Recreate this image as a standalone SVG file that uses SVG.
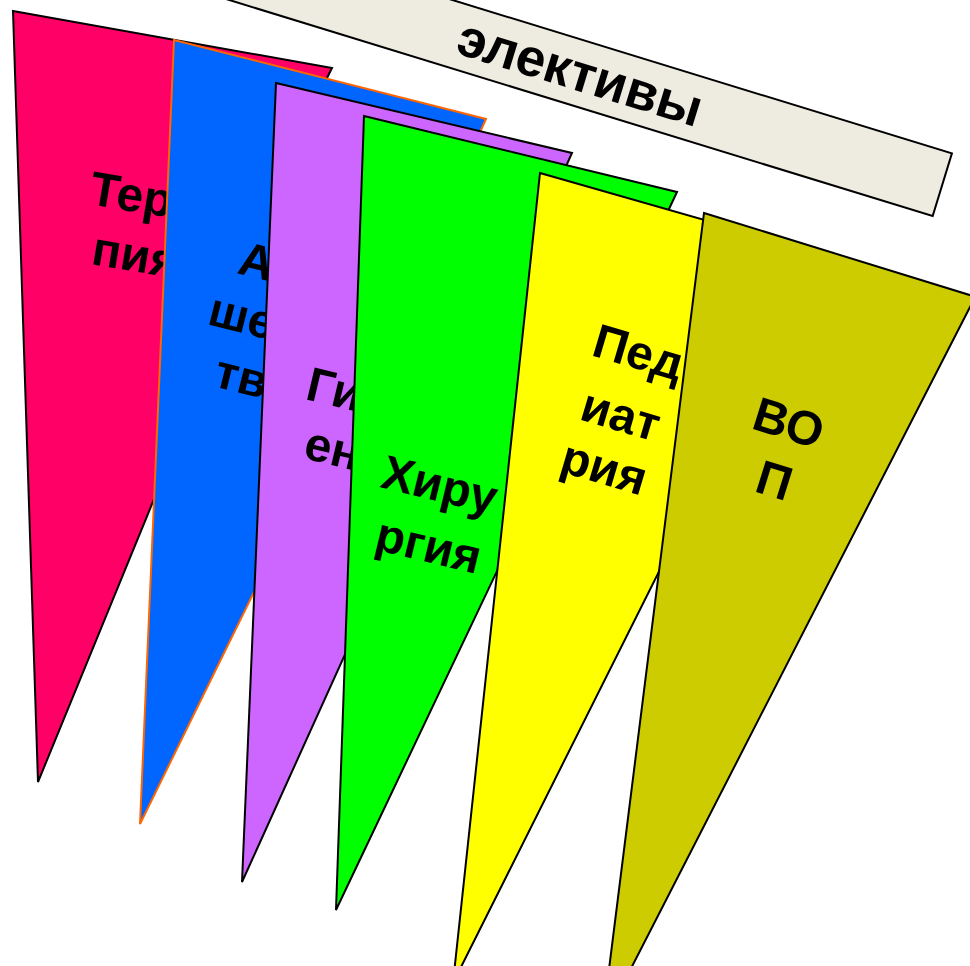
<svg xmlns="http://www.w3.org/2000/svg" width="970" height="966" viewBox="0 0 970 966">
<style>
  .pn { stroke: #000; stroke-width: 2; stroke-linejoin: miter; }
  .lbl { font-family: "Liberation Sans", Arial, sans-serif; font-weight: bold; font-size: 48px; fill: #000; }
  .ttl { font-family: "Liberation Sans", Arial, sans-serif; font-weight: bold; font-size: 53px; fill: #000; }
</style>
<rect width="970" height="966" fill="#fff"/>
<g id="banner">
  <rect x="100" y="-132.8" width="855" height="65.5" fill="#EEECE1" stroke="#000" stroke-width="2" transform="rotate(17.07)"/>
  <text class="ttl" x="575" y="90" text-anchor="middle" transform="rotate(17.07 575 90)">элективы</text>
</g>
<g id="terapia">
  <polygon class="pn" fill="#FF0066" points="13,11 332,68 326,80 38,782"/>
  <text class="lbl" x="88" y="204" transform="rotate(9.5 88 204)">Тер</text>
  <text class="lbl" x="90" y="264" transform="rotate(9.5 90 264)">пия</text>
</g>
<g id="akusherstvo">
  <polygon fill="#0066FF" stroke="#FF6600" stroke-width="2" points="174,40 486,119 481,130 140,824"/>
  <text class="lbl" x="236" y="273" transform="rotate(14 236 273)">А</text>
  <text class="lbl" x="206" y="324" transform="rotate(14 206 324)">ше</text>
  <text class="lbl" x="212" y="386" transform="rotate(14 212 386)">тв</text>
</g>
<g id="gigiena">
  <polygon class="pn" fill="#CC66FF" points="276,83 572,153 567,164 242,882"/>
  <text class="lbl" x="304" y="399" transform="rotate(13.3 304 399)">Ги</text>
  <text class="lbl" x="302" y="458" transform="rotate(13.3 302 458)">ен</text>
</g>
<g id="hirurgia">
  <polygon class="pn" fill="#00FF00" points="364,116 677,192 669,209 336,910"/>
  <text class="lbl" x="379" y="487" transform="rotate(13.6 379 487)">Хиру</text>
  <text class="lbl" x="373" y="549" transform="rotate(13.6 373 549)">ргия</text>
</g>
<g id="pediatria">
  <polygon class="pn" fill="#FFFF00" points="540,173 820,253 814,262 453,983"/>
  <text class="lbl" x="590" y="355" transform="rotate(16.5 590 355)">Пед</text>
  <text class="lbl" x="578" y="419" transform="rotate(16.5 578 419)">иат</text>
  <text class="lbl" x="558" y="471" transform="rotate(16.5 558 471)">рия</text>
</g>
<g id="vop">
  <polygon class="pn" fill="#CCCC00" points="704,213 976,297 970,307 602,1025"/>
  <text class="lbl" x="750" y="428" transform="rotate(17.3 750 428)">ВО</text>
  <text class="lbl" x="753" y="491" transform="rotate(17.3 753 491)">П</text>
</g>
</svg>
